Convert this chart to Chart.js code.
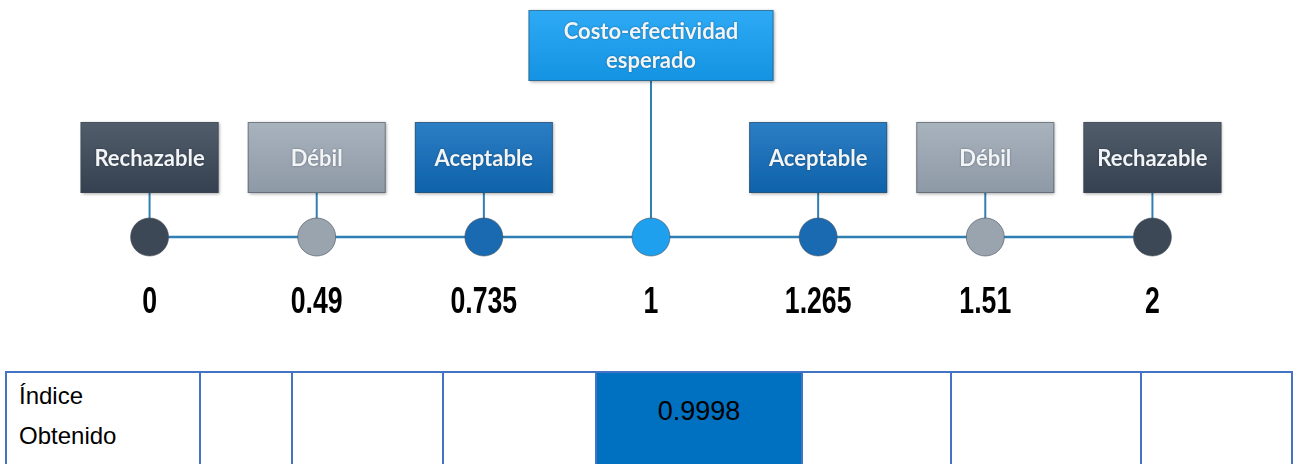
<!DOCTYPE html>
<html>
<head>
<meta charset="utf-8">
<script src="https://cdn.jsdelivr.net/npm/chart.js@4/dist/chart.umd.min.js"></script>
<style>
  html, body { margin: 0; padding: 0; background: #fff; }
  #wrap { position: relative; width: 1293px; height: 464px; overflow: hidden; }
  #grafico { position: absolute; left: 0; top: 0; }
  table.indice {
    position: absolute; left: 5px; top: 371px;
    border-collapse: collapse; table-layout: fixed;
    font-family: "Liberation Sans", Arial, sans-serif; font-size: 24px; color: #000;
  }
  table.indice td {
    box-sizing: border-box;
    border: 2px solid #4472c4; height: 100px; padding: 0; vertical-align: top;
  }
  table.indice td.titulo { padding: 3px 0 0 12px; line-height: 40px; }
  table.indice td.marcado { background: #0070c0; text-align: center; padding-top: 23px; font-size: 27px; }
</style>
</head>
<body>
<div id="wrap">
  <canvas id="grafico" width="1293" height="350"></canvas>
  <table class="indice" id="tabla"></table>
</div>
<script>
/* =========================
   DATOS
========================= */

const valoresEscala = ["0", "0.49", "0.735", "1", "1.265", "1.51", "2"];
const etiquetasCaja = ["Rechazable", "Débil", "Aceptable", "Costo-efectividad\nesperado", "Aceptable", "Débil", "Rechazable"];
const categoriaNodo = ["rechazable", "debil", "aceptable", "esperado", "aceptable", "debil", "rechazable"];
const posicionEje = [0, 0, 0, 0, 0, 0, 0];

const indiceObtenido = 0.9998;
const columnaIndice = 3;   // columna de la escala donde cae el índice

/* =========================
   ESTILOS
========================= */

const COLORES = {
  rechazable: { top: "#525d6b", bottom: "#354150", nodo: "#3d4856" },
  debil:      { top: "#a9b3be", bottom: "#8e99a6", nodo: "#9aa4af" },
  aceptable:  { top: "#2c7ec4", bottom: "#0e62a9", nodo: "#1a6ab2" },
  esperado:   { top: "#2eaaf5", bottom: "#1493e2", nodo: "#1ea0ee" }
};

const COLOR_LINEA = "#2f7fb5";

/* =========================
   PLUGIN CAJAS
========================= */

const cajasPlugin = {
  id: "cajas",
  beforeDatasetsDraw(chart) {
    const ctx = chart.ctx;
    const meta = chart.getDatasetMeta(0);

    meta.data.forEach((pt, i) => {
      const tipo = categoriaNodo[i];
      const alta = tipo === "esperado";
      const w = alta ? 245 : 138;
      const h = 71;
      const bottom = alta ? 81 : 193;
      const x = pt.x - w / 2;
      const y = bottom - h;

      // conector
      ctx.save();
      ctx.strokeStyle = COLOR_LINEA;
      ctx.lineWidth = 2;
      ctx.beginPath();
      ctx.moveTo(pt.x, bottom);
      ctx.lineTo(pt.x, pt.y);
      ctx.stroke();
      ctx.restore();

      // caja
      ctx.save();
      ctx.shadowColor = "rgba(0,0,0,0.35)";
      ctx.shadowBlur = 3;
      ctx.shadowOffsetX = 1;
      ctx.shadowOffsetY = 1;
      const grad = ctx.createLinearGradient(0, y, 0, y + h);
      grad.addColorStop(0, COLORES[tipo].top);
      grad.addColorStop(1, COLORES[tipo].bottom);
      ctx.fillStyle = grad;
      ctx.fillRect(x, y, w, h);
      ctx.restore();

      ctx.save();
      ctx.strokeStyle = "rgba(60,70,80,0.5)";
      ctx.lineWidth = 1;
      ctx.strokeRect(x + 0.5, y + 0.5, w - 1, h - 1);

      // texto
      ctx.fillStyle = "#f2f5f8";
      ctx.font = "bold 22px Lato, 'Open Sans', sans-serif";
      ctx.textAlign = "center";
      ctx.textBaseline = "middle";
      ctx.shadowColor = "rgba(0,0,0,0.4)";
      ctx.shadowBlur = 2;
      const lineas = etiquetasCaja[i].split("\n");
      const lh = 29;
      lineas.forEach((t, k) => {
        ctx.fillText(t, pt.x, y + h / 2 + 1 + (k - (lineas.length - 1) / 2) * lh);
      });
      ctx.restore();
    });
  },
  afterDraw(chart) {
    // etiquetas de la escala, en negrita estrecha
    const ctx = chart.ctx;
    const xs = chart.scales.x;
    ctx.save();
    ctx.fillStyle = "#000";
    ctx.font = "bold 36px 'Liberation Sans', Arial, sans-serif";
    ctx.textAlign = "center";
    ctx.textBaseline = "alphabetic";
    chart.data.labels.forEach((lab, i) => {
      const px = xs.getPixelForValue(i);
      ctx.save();
      ctx.translate(px, 313);
      ctx.scale(0.74, 1);
      ctx.fillText(lab, 0, 0);
      ctx.restore();
    });
    ctx.restore();
  }
};

/* =========================
   GRÁFICO
========================= */

const chart = new Chart(document.getElementById("grafico"), {
  type: "line",
  data: {
    labels: valoresEscala,
    datasets: [{
      data: posicionEje,
      borderColor: COLOR_LINEA,
      borderWidth: 2.5,
      pointRadius: 19,
      pointHoverRadius: 19,
      pointBackgroundColor: categoriaNodo.map(t => COLORES[t].nodo),
      pointBorderColor: "rgba(70,80,90,0.6)",
      pointBorderWidth: 1,
      clip: false
    }]
  },
  options: {
    responsive: false,
    animation: false,
    events: [],
    layout: { padding: { left: 66, right: 57, top: 200, bottom: 76 } },
    plugins: { legend: { display: false }, tooltip: { enabled: false } },
    scales: {
      x: { display: false, offset: true },
      y: { display: false, min: -1, max: 1 }
    }
  },
  plugins: [cajasPlugin]
});

/* =========================
   TABLA ÍNDICE
========================= */

const anchosColumnas = [194, 93, 152, 153, 207, 149, 191, 152];
const tabla = document.getElementById("tabla");
const fila = document.createElement("tr");
anchosColumnas.forEach((w, i) => {
  const td = document.createElement("td");
  td.style.width = w + "px";
  if (i === 0) {
    td.className = "titulo";
    td.innerHTML = "Índice<br>Obtenido";
  } else if (i - 1 === columnaIndice) {
    td.className = "marcado";
    td.textContent = indiceObtenido;
  }
  fila.appendChild(td);
});
tabla.appendChild(fila);
</script>
</body>
</html>
